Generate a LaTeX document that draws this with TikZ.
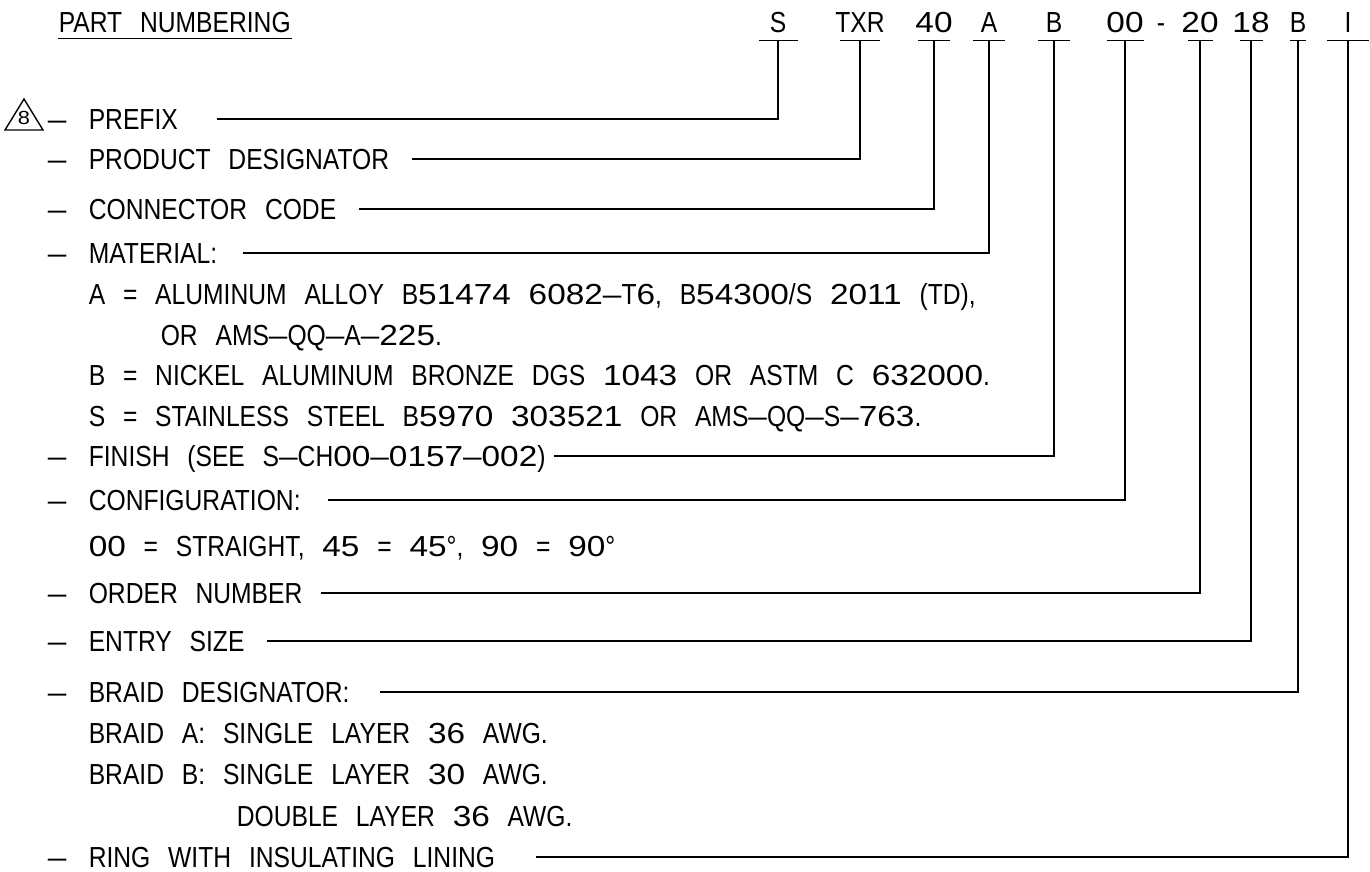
\documentclass[tikz,border=0pt]{standalone}
\usepackage{fontspec}
\setmainfont[FakeStretch=0.85,WordSpace=2.6]{Liberation Sans}
\newfontfamily\cadnum[FakeStretch=1.15,WordSpace=2.2]{Liberation Sans}
\newcommand{\cadfont}{\fontsize{29}{34}\selectfont}
% digits and long dashes of the drawing font are wider
\newXeTeXintercharclass\digitcls
\count255=`0
\loop\XeTeXcharclass\count255=\digitcls\ifnum\count255<`9 \advance\count255 by 1 \repeat
\XeTeXcharclass"2013=\digitcls
\XeTeXinterchartoks 0 \digitcls = {\begingroup\cadnum}
\XeTeXinterchartoks 4095 \digitcls = {\begingroup\cadnum}
\XeTeXinterchartoks \digitcls 0 = {\endgroup}
\XeTeXinterchartoks \digitcls 4095 = {\endgroup}
\begin{document}
\XeTeXinterchartokenstate=1
\begin{tikzpicture}[x=1pt,y=-1pt,line width=1.6pt,
	lbl/.style={anchor=west,inner sep=0pt,text height=21pt,text depth=0pt,font=\cadfont},
	code/.style={inner xsep=0pt,inner ysep=7pt,text height=21pt,text depth=0pt,font=\cadfont}]
	\useasboundingbox (0,0) rectangle (1370,871);
	% title
	\node[lbl] (title) at (58,22) {PART NUMBERING};
	\draw (title.south west) ++(0,-5pt) coordinate (tl) -- (tl -| title.east);
	% code letters
	\node[code] (cS) at (778,22) {S};
	\node[code] (cTXR) at (860,22) {TXR};
	\node[code] (cForty) at (934,22) {40};
	\node[code] (cA) at (989,22) {A};
	\node[code] (cB) at (1054,22) {B};
	\node[code] (cCfg) at (1125,22) {00};
	\node[code] (cDash) at (1161,22) {-};
	\node[code] (cOrd) at (1200,22) {20};
	\node[code] (cSize) at (1251,22) {18};
	\node[code] (cBraid) at (1298,22) {B};
	\node[code] (cI) at (1348,22) {I};
	\foreach \n/\w in {cS/39, cTXR/40, cForty/32, cA/32, cB/32, cCfg/37, cOrd/25, cSize/23, cBraid/16, cI/42}
		\draw ([xshift=-\w/2]\n.south) -- ([xshift=\w/2]\n.south);
	% flag
	\draw[line width=1.4pt] (5,130) -- (24,99) -- (43,130) -- cycle;
	\node[inner sep=0pt,font=\fontsize{19}{24}\selectfont] (flag) at (24,118) {8};
	\foreach \y in {119,159,209,253,456,500,593,641,692,857}
		\node[lbl] (d\y) at (47,\y) {–};
	% rows
	\node[lbl] (pfx) at (88,119) {PREFIX};
	\node[lbl] (prd) at (88,159) {PRODUCT DESIGNATOR};
	\node[lbl] (con) at (88,209) {CONNECTOR CODE};
	\node[lbl] (mat) at (88,253) {MATERIAL:};
	\node[lbl] (matA) at (88,294) {A = ALUMINUM ALLOY B51474 6082–T6, B54300/S 2011 (TD),};
	\node[lbl] (matA2) at (160,335) {OR AMS–QQ–A–225.};
	\node[lbl] (matB) at (88,375) {B = NICKEL ALUMINUM BRONZE DGS 1043 OR ASTM C 632000.};
	\node[lbl] (matS) at (88,416) {S = STAINLESS STEEL B5970 303521 OR AMS–QQ–S–763.};
	\node[lbl] (fin) at (88,456) {FINISH (SEE S–CH00–0157–002)};
	\node[lbl] (cfg) at (88,500) {CONFIGURATION:};
	\node[lbl] (cfgA) at (88,546) {00 = STRAIGHT, 45 = 45°, 90 = 90°};
	\node[lbl] (ord) at (88,593) {ORDER NUMBER};
	\node[lbl] (siz) at (88,641) {ENTRY SIZE};
	\node[lbl] (brd) at (88,692) {BRAID DESIGNATOR:};
	\node[lbl] (brdA) at (88,733) {BRAID A: SINGLE LAYER 36 AWG.};
	\node[lbl] (brdB) at (88,774) {BRAID B: SINGLE LAYER 30 AWG.};
	\node[lbl] (brdB2) at (236,816) {DOUBLE LAYER 36 AWG.};
	\node[lbl] (rng) at (88,857) {RING WITH INSULATING LINING};
	% leaders
	\draw ([xshift=38pt]pfx.east) -| (cS.south);
	\draw ([xshift=22pt]prd.east) -| (cTXR.south);
	\draw ([xshift=22pt]con.east) -| (cForty.south);
	\draw ([xshift=25pt]mat.east) -| (cA.south);
	\draw ([xshift=8pt]fin.east) -| (cB.south);
	\draw ([xshift=27pt]cfg.east) -| (cCfg.south);
	\draw ([xshift=18pt]ord.east) -| (cOrd.south);
	\draw ([xshift=22pt]siz.east) -| (cSize.south);
	\draw ([xshift=30pt]brd.east) -| (cBraid.south);
	\draw ([xshift=40pt]rng.east) -| (cI.south);
\end{tikzpicture}
\end{document}
